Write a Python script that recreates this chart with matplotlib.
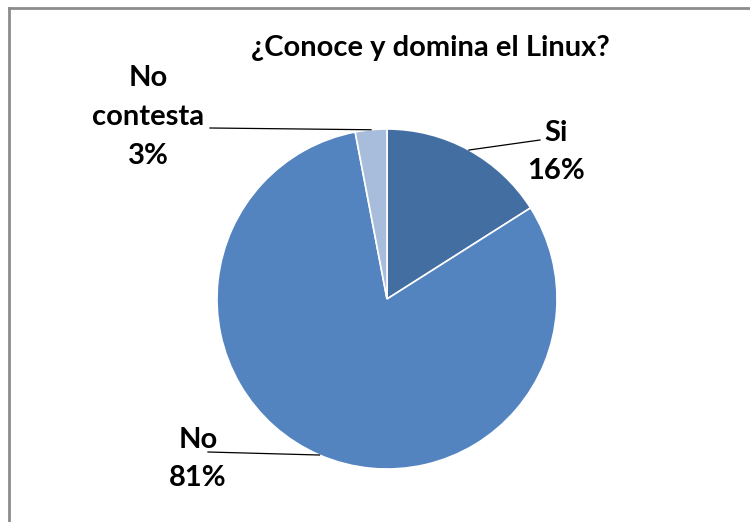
import numpy as np
import matplotlib.pyplot as plt

# Data
labels = ['Si', 'No', 'No\ncontesta']
values = [16, 81, 3]
colors = ['#426EA2', '#5384C0', '#A8BDDC']
title = '¿Conoce y domina el Linux?'

plt.rcParams['font.family'] = ['Lato', 'DejaVu Sans']

fig = plt.figure(figsize=(7.5, 5.22), dpi=100)
ax = fig.add_axes([0, 0, 1, 1])

cx, cy, r = 387, 223, 170
wedges, _ = ax.pie(values, colors=colors, startangle=90, counterclock=False,
                   radius=r, center=(cx, cy), frame=True,
                   wedgeprops=dict(edgecolor='white', linewidth=1.2))
ax.set_xlim(0, 750)
ax.set_ylim(0, 522)
ax.set_aspect('equal')
ax.axis('off')

# label positions (text centre, line end)
text_pos = [(556, 370), (198, 63), (148, 405)]
line_end = [(540, 382), (208, 70), (210, 394)]
for w, lab, v, tp, le in zip(wedges, labels, values, text_pos, line_end):
    ang = np.deg2rad((w.theta1 + w.theta2) / 2)
    px, py = cx + r * np.cos(ang), cy + r * np.sin(ang)
    ax.plot([px, le[0]], [py, le[1]], color='black', lw=0.9)
    ax.text(tp[0], tp[1], f'{lab}\n{v}%', ha='center', va='center',
            fontsize=21, fontweight='bold', linespacing=1.6, color='black')

ax.text(430, 474, title, ha='center', va='center', fontsize=21, fontweight='bold')

# chart border (top and left)
fig.add_artist(plt.Line2D([9, 9], [0, 514], transform=None, color='#8c8c8c', lw=2))
fig.add_artist(plt.Line2D([9, 750], [514, 514], transform=None, color='#8c8c8c', lw=2))

fig.savefig('out.png', dpi=100)
